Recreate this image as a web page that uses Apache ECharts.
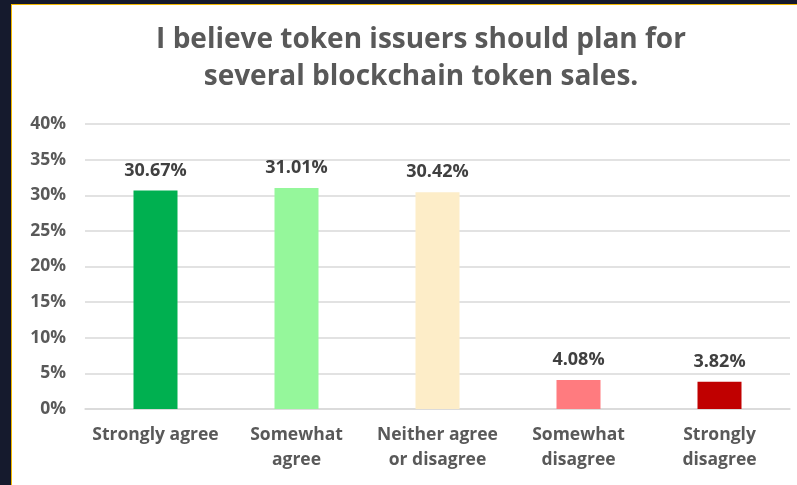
<!DOCTYPE html>
<html><head><meta charset="utf-8">
<script src="https://cdn.jsdelivr.net/npm/echarts@6/dist/echarts.min.js"></script>
<style>
html,body{margin:0;padding:0;background:#151a2d;width:797px;height:485px;overflow:hidden;}
#wrap{position:absolute;left:11px;top:4px;border-left:1px solid #f2b700;border-top:1px solid #f2b700;background:#fff;width:785px;height:480px;}
#chart{width:785px;height:480px;}
</style></head>
<body><div id="wrap"><div id="chart"></div></div>
<script>
const categories = ['Strongly agree', 'Somewhat\nagree', 'Neither agree\nor disagree', 'Somewhat\ndisagree', 'Strongly\ndisagree'];
const values = [30.67, 31.01, 30.42, 4.08, 3.82];
const colors = ['#00b050', '#95f79b', '#fdedc8', '#ff7b7f', '#c00000'];
const titleText = 'I believe token issuers should plan for\nseveral blockchain token sales.';

const FONT = 'Open Sans';
const chart = echarts.init(document.getElementById('chart'));
chart.setOption({
  animation: false,
  title: {
    text: titleText,
    left: 404, top: 12, textAlign: 'center',
    textStyle: {fontFamily: FONT, fontWeight: 'bold', fontSize: 28, color: '#595959', lineHeight: 37}
  },
  grid: {left: 73, right: 7, top: 119, bottom: 76},
  xAxis: {
    type: 'category', data: categories,
    axisLine: {lineStyle: {color: '#d9d9d9', width: 1.5}},
    axisTick: {show: false},
    axisLabel: {fontFamily: FONT, fontWeight: 'bold', fontSize: 17.5, color: '#595959', lineHeight: 25, margin: 14, interval: 0}
  },
  yAxis: {
    type: 'value', min: 0, max: 40, interval: 5,
    axisLabel: {formatter: '{value}%', fontFamily: FONT, fontWeight: 'bold', fontSize: 17.5, color: '#595959', margin: 19},
    splitLine: {lineStyle: {color: '#d9d9d9', width: 1.5}},
    axisLine: {show: false}, axisTick: {show: false}
  },
  series: [{
    type: 'bar', barWidth: 44,
    data: values.map((v, i) => ({value: v, itemStyle: {color: colors[i]}})),
    label: {show: true, position: 'top', distance: 11, formatter: p => p.value.toFixed(2) + '%',
      fontFamily: FONT, fontWeight: 'bold', fontSize: 18, color: '#404040'}
  }]
});
</script></body></html>
